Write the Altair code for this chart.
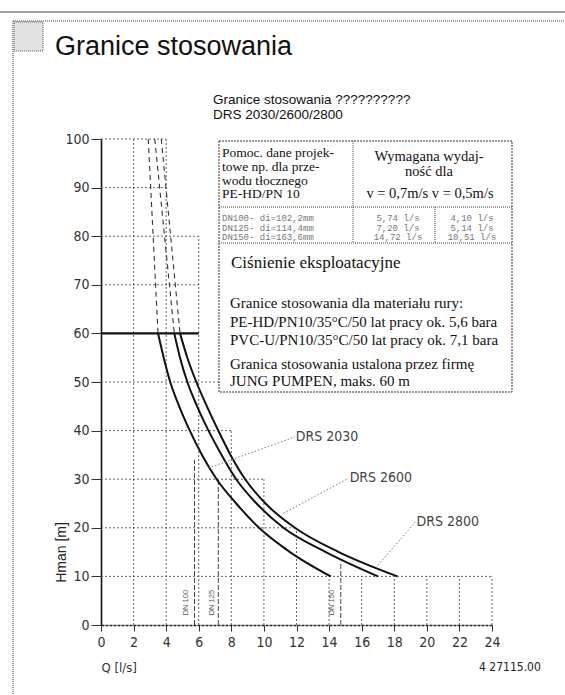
import altair as alt
import pandas as pd

# ---------------- data ----------------
series = ["DRS 2030", "DRS 2600", "DRS 2800"]
h_curve = [60, 55, 50, 45, 40, 35, 30, 25, 20, 15, 10]
q_2030 = [3.5, 3.85, 4.25, 4.8, 5.45, 6.2, 7.1, 8.3, 9.7, 11.6, 14.1]
q_2600 = [4.5, 4.85, 5.3, 5.9, 6.6, 7.4, 8.3, 9.55, 11.2, 13.8, 17.0]
q_2800 = [4.85, 5.3, 5.85, 6.5, 7.2, 7.95, 8.85, 10.1, 11.9, 14.6, 18.2]

ext_h = [60, 100]
ext_2030 = [3.5, 2.9]
ext_2600 = [4.5, 3.3]
ext_2800 = [4.85, 3.7]

grid_h = [10, 20, 30, 40, 50, 70, 80, 90, 100]
grid_h_end = [24, 12, 10, 8, 8, 6, 6, 4, 4]
grid_q = [2, 4, 6, 8, 10, 12, 14, 16, 18, 20, 22, 24]
grid_q_end = [100, 100, 80, 40, 30, 20, 10, 10, 10, 10, 10, 10]

limit_h = [60]
limit_q_end = [6]

dn_names = ["DN 100", "DN 125", "DN 150"]
dn_q = [5.74, 7.20, 14.72]
dn_h_end = [34, 30, 13]
dn_label_q = [5.2, 6.8, 14.2]
dn_label_h = [4.6, 4.6, 4.6]

label_q = [11.9, 15.2, 19.3]
label_h = [38.7, 30.2, 21.2]
lead_q = [6.6, 11.2, 17.0]
lead_h = [32.3, 23.0, 12.3]

x_ticks = list(range(0, 25, 2))
y_ticks = list(range(0, 101, 10))

table_left = ["Pomoc. dane projek-", "towe np. dla prze-", "wodu tłocznego", "PE-HD/PN 10"]
table_right = ["Wymagana wydaj-", "ność dla"]
table_v = "v = 0,7m/s  v = 0,5m/s"
dn_rows = ["DN100- di=102,2mm", "DN125- di=114,4mm", "DN150- di=163,6mm"]
q_v07 = ["5,74 l/s", "7,20 l/s", "14,72 l/s"]
q_v05 = ["4,10 l/s", "5,14 l/s", "10,51 l/s"]
press_title = "Ciśnienie eksploatacyjne"
press_lines = ["Granice stosowania dla materiału rury:",
               "PE-HD/PN10/35°C/50 lat pracy ok. 5,6 bara",
               "PVC-U/PN10/35°C/50 lat pracy ok. 7,1 bara"]
firm_lines = ["Granica stosowania ustalona przez firmę", "JUNG PUMPEN, maks. 60 m"]

# ---------------- tables for the library ----------------
curves = pd.concat([
    pd.DataFrame({"s": s, "q": q, "h": h_curve})
    for s, q in zip(series, [q_2030, q_2600, q_2800])
])
ext = pd.concat([
    pd.DataFrame({"s": s, "q": q, "h": ext_h})
    for s, q in zip(series, [ext_2030, ext_2600, ext_2800])
])
hgrid = pd.DataFrame({"h": grid_h, "q0": 0, "q1": grid_h_end})
vgrid = pd.DataFrame({"q": grid_q, "h0": 0, "h1": grid_q_end})
limit = pd.DataFrame({"h": limit_h, "q0": 0, "q1": limit_q_end})
dn = pd.DataFrame({"n": dn_names, "q": dn_q, "h0": 0, "h1": dn_h_end,
                   "lq": dn_label_q, "lh": dn_label_h})
labels = pd.DataFrame({"s": series, "lq": label_q, "lh": label_h,
                       "eq": lead_q, "eh": lead_h})

SANS = "Liberation Sans, Arial, Helvetica, sans-serif"
SERIF = "Liberation Serif, Times New Roman, serif"
NARROW = "Liberation Sans Narrow, DejaVu Sans Condensed, DejaVu Sans, sans-serif"
MONO = "Liberation Mono, DejaVu Sans Mono, monospace"

xs = alt.Scale(domain=[0, 24], nice=False, zero=False)
ys = alt.Scale(domain=[0, 100], nice=False, zero=False)
x_axis = alt.Axis(values=x_ticks, format="d", title="Q [l/s]", titleX=0, titleY=42,
                  titleAlign="left", titleBaseline="middle", titleFont=NARROW,
                  titleFontSize=13, titleFontWeight="normal", titleColor="#333",
                  labelFont=NARROW, labelFontSize=14, labelColor="#333", labelPadding=4,
                  tickSize=6, tickColor="#333", domainColor="#222", domainWidth=1.6,
                  domainDash=[3, 1], grid=False, labelFlush=False)
y_axis = alt.Axis(values=y_ticks, format="d", title="Hman [m]", titleX=-40, titleY=413,
                  titleAngle=270, titleAlign="center", titleBaseline="middle",
                  titleFont=SANS, titleFontSize=14, titleFontWeight="normal",
                  titleColor="#222", labelFont=NARROW, labelFontSize=14,
                  labelColor="#333", labelPadding=2, tickSize=10, tickColor="#333",
                  domainColor="#111", domainWidth=1.6, grid=False)


def X(f):
    return alt.X(f, type="quantitative", scale=xs, axis=x_axis)


def Y(f):
    return alt.Y(f, type="quantitative", scale=ys, axis=y_axis)


grid_style = dict(color="#555", strokeWidth=0.9, strokeDash=[2, 2])

vg = alt.Chart(vgrid).mark_rule(**grid_style).encode(x=X("q"), y=Y("h0"), y2="h1")
hg = alt.Chart(hgrid).mark_rule(**grid_style).encode(y=Y("h"), x=X("q0"), x2="q1")
lim = alt.Chart(limit).mark_rule(color="#111", strokeWidth=2.2).encode(
    y=Y("h"), x=X("q0"), x2="q1")
dnl = alt.Chart(dn).mark_rule(color="#444", strokeWidth=1, strokeDash=[5, 2]).encode(
    x=X("q"), y=Y("h0"), y2="h1")
dnt = alt.Chart(dn).mark_text(angle=270, font=SANS, fontSize=7.5, color="#555",
                              align="center", baseline="middle").encode(
    x=X("lq"), y=Y("lh"), text="n")
lines = alt.Chart(curves).mark_line(color="#111", strokeWidth=2, interpolate="monotone").encode(
    x=X("q"), y=Y("h"), detail="s", order="q")
exts = alt.Chart(ext).mark_line(color="#333", strokeWidth=1.1, strokeDash=[5, 4]).encode(
    x=X("q"), y=Y("h"), detail="s")
leads = alt.Chart(labels).mark_rule(color="#777", strokeWidth=1, strokeDash=[1.5, 2]).encode(
    x=X("eq"), y=Y("eh"), x2="lq", y2="lh")
ltxt = alt.Chart(labels).mark_text(font=NARROW, fontSize=14, color="#444", align="left",
                                   baseline="middle", dx=1).encode(
    x=X("lq"), y=Y("lh"), text="s")

# ---------------- decorations (pixel positions relative to plot) ----------------
one = pd.DataFrame({"k": [0]})
OX, OY = 101, 139  # plot origin on the page


def txt(text, x, y, **kw):
    return alt.Chart(one).mark_text(text=text, **kw).encode(
        x=alt.value(x - OX), y=alt.value(y - OY))


def hline(x0, x1, y, **kw):
    return alt.Chart(one).mark_rule(**kw).encode(
        x=alt.value(x0 - OX), x2=alt.value(x1 - OX), y=alt.value(y - OY))


def vline(x, y0, y1, **kw):
    return alt.Chart(one).mark_rule(**kw).encode(
        x=alt.value(x - OX), y=alt.value(y0 - OY), y2=alt.value(y1 - OY))


def box(x0, x1, y0, y1, **kw):
    return alt.Chart(one).mark_rect(**kw).encode(
        x=alt.value(x0 - OX), x2=alt.value(x1 - OX),
        y=alt.value(y0 - OY), y2=alt.value(y1 - OY))


dot = dict(color="#444", strokeWidth=1, strokeDash=[1, 1])
deco = [
    hline(0, 565, 12, color="#444", strokeWidth=1),
    hline(13, 565, 21, **dot),
    vline(13, 21, 695, **dot),
    box(14, 43, 22, 51, fill="#e2e2e2", stroke="#555", strokeWidth=1, strokeDash=[1, 1]),
    txt("Granice stosowania", 55, 47, font=SANS, fontSize=27, color="#111", align="left",
        baseline="middle"),
    txt(["Granice stosowania  ??????????", "DRS 2030/2600/2800"], 213, 104, font=SANS,
        fontSize=13.5, lineHeight=15, color="#111", align="left", baseline="alphabetic"),
    txt("4 27115.00", 479, 667, font=NARROW, fontSize=12, color="#222", align="left",
        baseline="middle"),
]

# info box
BL, BR, BT, B1, B2, BB = 219, 512, 141, 207, 243, 392
CD, CD2 = 353, 435
table = [
    box(BL, BR, BT, BB, fill="white", stroke="#333", strokeWidth=1, strokeDash=[2, 1]),
    hline(BL, BR, B1, **dot),
    hline(BL, BR, B2, **dot),
    vline(CD, BT, B2, **dot),
    vline(CD2, B1, B2, **dot),
    txt(table_left, 222, 157, font=SERIF, fontSize=13.5, lineHeight=13.8, color="#111",
        align="left", baseline="alphabetic"),
    txt(table_right, 429, 161, font=SERIF, fontSize=14.5, lineHeight=15, color="#111",
        align="center", baseline="alphabetic"),
    txt(table_v, 430, 198, font=SERIF, fontSize=14.5, color="#111", align="center",
        baseline="alphabetic"),
    txt(dn_rows, 222, 221, font=MONO, fontSize=9, lineHeight=9.5, color="#777",
        align="left", baseline="alphabetic"),
    txt(q_v07, 398, 221, font=MONO, fontSize=9, lineHeight=9.5, color="#777",
        align="center", baseline="alphabetic"),
    txt(q_v05, 472, 221, font=MONO, fontSize=9, lineHeight=9.5, color="#777",
        align="center", baseline="alphabetic"),
    txt(press_title, 231, 268, font=SERIF, fontSize=17, color="#111", align="left",
        baseline="alphabetic"),
    txt(press_lines, 230, 308, font=SERIF, fontSize=15, lineHeight=18.5, color="#111",
        align="left", baseline="alphabetic"),
    txt(firm_lines, 230, 369, font=SERIF, fontSize=15, lineHeight=17, color="#111",
        align="left", baseline="alphabetic"),
]

chart = alt.layer(
    vg, hg, dnl, dnt, exts, lines, lim, leads, ltxt, *table, *deco
).properties(
    width=391, height=486,
    autosize=alt.AutoSizeParams(type="none"),
    padding={"left": OX, "top": OY, "right": 565 - OX - 391, "bottom": 695 - OY - 486},
    background="white",
).configure_view(stroke=None)

chart.save("out.html", embed_options={"renderer": "svg", "actions": False})
